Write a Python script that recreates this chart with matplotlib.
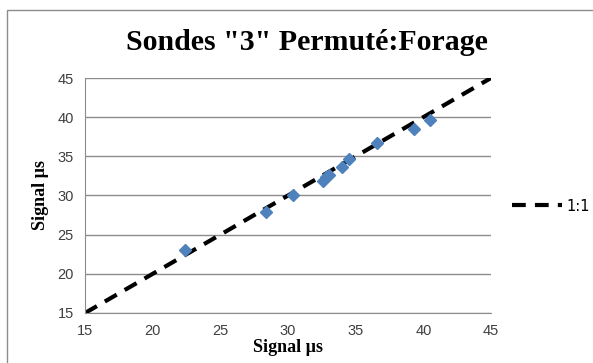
import matplotlib.pyplot as plt
from matplotlib.patches import Rectangle

# Measured vs reference signal (µs)
signal_x = [22.4, 28.4, 30.35, 32.6, 32.8, 33.0, 34.0, 34.5, 36.6, 39.3, 40.5]
signal_y = [23.0, 27.9, 30.0, 31.8, 32.3, 32.6, 33.7, 34.7, 36.7, 38.5, 39.6]
line_11 = [15, 45]
ticks = [15, 20, 25, 30, 35, 40, 45]

fig = plt.figure(figsize=(5.93, 3.63), dpi=100)
# chart border like the spreadsheet frame
fig.patches.append(Rectangle((7 / 593, -0.01), 1.0, 1 - 10 / 363 + 0.01,
                             transform=fig.transFigure, fill=False,
                             edgecolor='#8c8c8c', linewidth=1.0))

ax = fig.add_axes([85 / 593, 1 - 313 / 363, 406 / 593, 235 / 363])

ax.plot(signal_x, signal_y, linestyle='none', marker='D', markersize=6.5,
        color='#4f81bd', zorder=3)
ax.plot(line_11, line_11, linestyle=(0, (3.3, 2.2)), color='black',
        linewidth=3, label='1:1', zorder=2)

ax.set_xlim(15, 45)
ax.set_ylim(15, 45)
ax.set_xticks(ticks)
ax.set_yticks(ticks)
ax.grid(axis='y', color='#8c8c8c', linewidth=1)
ax.set_axisbelow(True)
for side in ['top', 'right']:
    ax.spines[side].set_visible(False)
for side in ['left', 'bottom']:
    ax.spines[side].set_color('#8c8c8c')
ax.tick_params(length=0, labelsize=10.5, colors='#404040', pad=8)
for lab in ax.get_xticklabels() + ax.get_yticklabels():
    lab.set_family('Liberation Sans')

fig.text(307 / 593, 1 - 42 / 363, 'Sondes "3" Permuté:Forage',
         family='Liberation Serif', fontweight='bold', fontsize=21.5,
         ha='center', va='center')
ax.set_xlabel('Signal µs', family='Liberation Serif', fontweight='bold',
              fontsize=13, labelpad=1)
ax.set_ylabel('Signal µs', family='Liberation Serif', fontweight='bold',
              fontsize=13, labelpad=6)

ax.legend(loc='center left', bbox_to_anchor=(1.02, 0.455), frameon=False,
          handlelength=3.4, handletextpad=0.3, fontsize=10.5)

plt.savefig('out.png', dpi=100)
